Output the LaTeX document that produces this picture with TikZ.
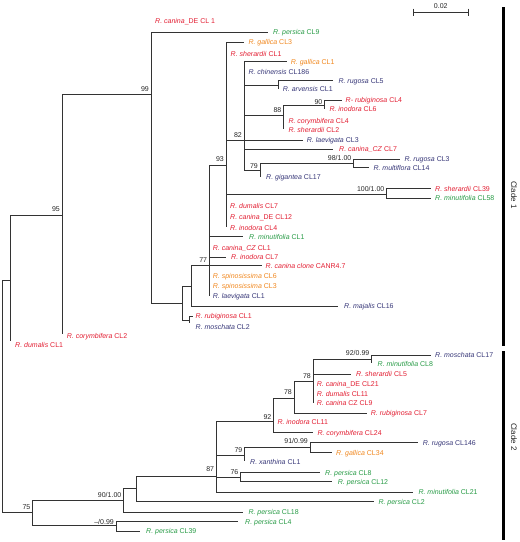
\documentclass[tikz,border=0pt]{standalone}
\usepackage{fontspec}
\setmainfont{Liberation Sans}
\definecolor{cred}{RGB}{226,30,50}
\definecolor{corg}{RGB}{240,135,30}
\definecolor{cgrn}{RGB}{40,155,70}
\definecolor{cblu}{RGB}{55,55,120}
\newcommand\spn[1]{\textit{#1}}
\newcommand\leaf[6]{\coordinate (t#1) at (#2,#3); \node[#4] (l#1) at (#5,#3) {#6};}
\newcommand\zlab[4]{\node[#3] (l#1) at (#2) {#4};}
\tikzset{
  br/.style={draw=black!80, line width=0.7pt},
  lbl/.style={anchor=west, inner sep=0pt, text height=5.1pt, text depth=0pt, font=\fontsize{7}{8}\selectfont},
  rd/.style={lbl,text=cred}, og/.style={lbl,text=corg},
  gn/.style={lbl,text=cgrn}, bl/.style={lbl,text=cblu},
  supv/.style={anchor=base east, inner sep=0pt, font=\fontsize{7}{8}\selectfont, text=black!85},
  cladebar/.style={draw=black, line width=3.5pt},
  cladetxt/.style={rotate=-90, inner sep=0pt, font=\fontsize{8}{9}\selectfont, text=black!85}
}
\begin{document}
\begin{tikzpicture}[x=1pt,y=-1pt]
\useasboundingbox (0,0) rectangle (520,542);
% internal nodes
\coordinate (root) at (2,396);
\coordinate (nA) at (10.7,280);
\coordinate (n95) at (62.3,215.7);
\coordinate (n99) at (151,94.3);
\coordinate (n182) at (182.7,303.3);
\coordinate (n189) at (189.3,320.7);
\coordinate (n191) at (191.7,286);
\coordinate (n77) at (209.3,265.7);
\coordinate (n93) at (226,165);
\coordinate (n82) at (244,140);
\coordinate (n278) at (278.3,85);
\coordinate (n88) at (283.3,115);
\coordinate (n90) at (324.3,105);
\coordinate (n79) at (260,170);
\coordinate (n98) at (353.3,163.3);
\coordinate (n100) at (386.7,194.3);
\coordinate (n75) at (32.3,512.7);
\coordinate (n90b) at (123.3,500.3);
\coordinate (nm99) at (116,525.7);
\coordinate (n136) at (136,488.3);
\coordinate (n87) at (216.3,476.7);
\coordinate (n92) at (273.3,421.7);
\coordinate (n78a) at (294,398.3);
\coordinate (n78b) at (313,381.5);
\coordinate (n92b) at (371.7,359.3);
\coordinate (n79b) at (244.3,455);
\coordinate (n91) at (310,447.7);
\coordinate (n76) at (240,477);

% leaves clade 1
\node[rd] (lcaDE1) at (155,21) {\spn{R. canina}\_DE CL 1};
\leaf{per9}{268}{32}{gn}{273}{\spn{R. persica} CL9}
\leaf{gal3}{244}{42.3}{og}{248.3}{\spn{R. gallica} CL3}
\zlab{sh1}{230.5,54}{rd}{\spn{R. sherardii} CL1}
\leaf{gal1}{287}{61.7}{og}{290.7}{\spn{R. gallica} CL1}
\zlab{chi}{248.3,72.3}{bl}{\spn{R. chinensis} CL186}
\leaf{rug5}{333.3}{80.5}{bl}{338.3}{\spn{R. rugosa} CL5}
\leaf{arv1}{278.3}{89}{bl}{282.7}{\spn{R. arvensis} CL1}
\leaf{rub4}{341.7}{100}{rd}{345.5}{\spn{R- rubiginosa} CL4}
\leaf{ino6}{324.3}{109}{rd}{329.3}{\spn{R. inodora} CL6}
\zlab{cor4}{288.3,121}{rd}{\spn{R. corymbifera} CL4}
\coordinate (tsh2) at (283.3,129);
\zlab{sh2}{288.3,130}{rd}{\spn{R. sherardii} CL2}
\leaf{lae3}{303.3}{140}{bl}{306.7}{\spn{R. laevigata} CL3}
\leaf{caCZ7}{333.3}{149}{rd}{339}{\spn{R. canina\_CZ} CL7}
\leaf{rug3}{400}{159}{bl}{404.3}{\spn{R. rugosa} CL3}
\leaf{mul14}{369.3}{167.7}{bl}{373.3}{\spn{R. multiflora} CL14}
\coordinate (tgig) at (260,177);
\zlab{gig}{266,176.7}{bl}{\spn{R. gigantea} CL17}
\leaf{sh39}{430.7}{188.7}{rd}{435}{\spn{R. sherardii} CL39}
\leaf{min58}{431}{198.3}{gn}{435}{\spn{R. minutifolia} CL58}
\zlab{dum7}{230,206}{rd}{\spn{R. dumalis} CL7}
\zlab{caDE12}{230,217}{rd}{\spn{R. canina}\_DE CL12}
\coordinate (tino4) at (226,226.7);
\zlab{ino4}{230,227.5}{rd}{\spn{R. inodora} CL4}
\leaf{min1}{242.7}{236.5}{gn}{249}{\spn{R. minutifolia} CL1}
\zlab{caCZ1}{212.7,248}{rd}{\spn{R. canina\_CZ} CL1}
\leaf{ino7}{226}{257.3}{rd}{231}{\spn{R. inodora} CL7}
\leaf{canr}{261.7}{265.7}{rd}{265.5}{\spn{R. canina clone} CANR4.7}
\zlab{spi6}{212.7,275.5}{og}{\spn{R. spinosissima} CL6}
\zlab{spi3}{212.7,286}{og}{\spn{R. spinosissima} CL3}
\coordinate (tlae1) at (209.3,295.7);
\zlab{lae1}{212.7,296}{bl}{\spn{R. laevigata} CL1}
\leaf{maj16}{338}{306}{bl}{344}{\spn{R. majalis} CL16}
\leaf{rub1}{192.5}{316.2}{rd}{195.5}{\spn{R. rubiginosa} CL1}
\coordinate (tmos2) at (189.3,322.5);
\zlab{mos2}{195.5,327.3}{bl}{\spn{R. moschata} CL2}
\coordinate (tcor2) at (62.3,334);
\zlab{cor2}{66.7,335.7}{rd}{\spn{R. corymbifera} CL2}
\coordinate (tdum1) at (10.7,341);
\zlab{dum1}{15,345}{rd}{\spn{R. dumalis} CL1}

% leaves clade 2
\leaf{mos17}{430.7}{355}{bl}{435}{\spn{R. moschata} CL17}
\coordinate (tmin8) at (371.7,363);
\zlab{min8}{377.5,363.7}{gn}{\spn{R. minutifolia} CL8}
\leaf{sh5}{351}{374.3}{rd}{356}{\spn{R. sherardii} CL5}
\zlab{caDE21}{316.7,384.3}{rd}{\spn{R. canina}\_DE CL21}
\zlab{dum11}{316.7,394.3}{rd}{\spn{R. dumalis} CL11}
\coordinate (tcaCZ9) at (313,403);
\zlab{caCZ9}{316.7,403.3}{rd}{\spn{R. canina} CZ CL9}
\leaf{rub7}{366.7}{413.3}{rd}{370.7}{\spn{R. rubiginosa} CL7}
\zlab{ino11}{277.3,422.3}{rd}{\spn{R. inodora} CL11}
\leaf{cor24}{313.3}{432.7}{rd}{317.3}{\spn{R. corymbifera} CL24}
\leaf{rug146}{418.3}{442.7}{bl}{422.7}{\spn{R. rugosa} CL146}
\leaf{gal34}{331.7}{452.7}{og}{336}{\spn{R. gallica} CL34}
\coordinate (txan1) at (244.3,460.5);
\zlab{xan1}{250,462.3}{bl}{\spn{R. xanthina} CL1}
\leaf{per8}{320}{472.7}{gn}{325}{\spn{R. persica} CL8}
\leaf{per12}{332.3}{481.7}{gn}{337.7}{\spn{R. persica} CL12}
\leaf{min21}{413.3}{492}{gn}{418.3}{\spn{R. minutifolia} CL21}
\leaf{per2}{374}{501.7}{gn}{378.3}{\spn{R. persica} CL2}
\leaf{per18}{242.7}{512}{gn}{248.3}{\spn{R. persica} CL18}
\leaf{per4}{238.3}{521.7}{gn}{245}{\spn{R. persica} CL4}
\leaf{per39}{140}{531}{gn}{146}{\spn{R. persica} CL39}

% branches
\draw[br] (root) |- (nA);
\draw[br] (root) |- (n75);
\draw[br] (nA) |- (n95);
\draw[br] (nA) |- (tdum1);
\draw[br] (n95) |- (n99);
\draw[br] (n95) |- (tcor2);
\draw[br] (n99) |- (tper9);
\draw[br] (n99) |- (n182);
\draw[br] (n182) |- (n191);
\draw[br] (n182) |- (n189);
\draw[br] (n189) |- (trub1);
\draw[br] (n189) |- (tmos2);
\draw[br] (n191) |- (n77);
\draw[br] (n191) |- (tmaj16);
\draw[br] (n77) |- (n93);
\draw[br] (n77) |- (tmin1);
\draw[br] (n77) |- (tino7);
\draw[br] (n77) |- (tcanr);
\draw[br] (n77) |- (tlae1);
\draw[br] (n93) |- (tgal3);
\draw[br] (n93) |- (n82);
\draw[br] (n93) |- (n100);
\draw[br] (n93) |- (tino4);
\draw[br] (n82) |- (tgal1);
\draw[br] (n82) |- (n278);
\draw[br] (n82) |- (n88);
\draw[br] (n82) |- (tlae3);
\draw[br] (n82) |- (tcaCZ7);
\draw[br] (n82) |- (n79);
\draw[br] (n278) |- (trug5);
\draw[br] (n278) |- (tarv1);
\draw[br] (n88) |- (n90);
\draw[br] (n88) |- (tsh2);
\draw[br] (n90) |- (trub4);
\draw[br] (n90) |- (tino6);
\draw[br] (n79) |- (n98);
\draw[br] (n79) |- (tgig);
\draw[br] (n98) |- (trug3);
\draw[br] (n98) |- (tmul14);
\draw[br] (n100) |- (tsh39);
\draw[br] (n100) |- (tmin58);
\draw[br] (n75) |- (n90b);
\draw[br] (n75) |- (nm99);
\draw[br] (nm99) |- (tper4);
\draw[br] (nm99) |- (tper39);
\draw[br] (n90b) |- (n136);
\draw[br] (n90b) |- (tper18);
\draw[br] (n136) |- (n87);
\draw[br] (n136) |- (tper2);
\draw[br] (n87) |- (n92);
\draw[br] (n87) |- (n79b);
\draw[br] (n87) |- (n76);
\draw[br] (n87) |- (tmin21);
\draw[br] (n76) |- (tper8);
\draw[br] (n76) |- (tper12);
\draw[br] (n79b) |- (n91);
\draw[br] (n79b) |- (txan1);
\draw[br] (n91) |- (trug146);
\draw[br] (n91) |- (tgal34);
\draw[br] (n92) |- (n78a);
\draw[br] (n92) |- (tcor24);
\draw[br] (n78a) |- (n78b);
\draw[br] (n78a) |- (trub7);
\draw[br] (n78b) |- (n92b);
\draw[br] (n78b) |- (tsh5);
\draw[br] (n78b) |- (tcaCZ9);
\draw[br] (n92b) |- (tmos17);
\draw[br] (n92b) |- (tmin8);

% support values
\node[supv] (s99) at (149,91) {99};
\node[supv] (s95) at (60,211.5) {95};
\node[supv] (s93) at (224,161) {93};
\node[supv] (s82) at (242,137) {82};
\node[supv] (s88) at (281.5,112.5) {88};
\node[supv] (s90) at (322.5,104.2) {90};
\node[supv] (s79) at (258,168.2) {79};
\node[supv] (s98) at (351.5,160.8) {98/1.00};
\node[supv] (s100) at (384.5,191) {100/1.00};
\node[supv] (s77) at (207.3,262) {77};
\node[supv] (s75) at (30.5,509.5) {75};
\node[supv] (s90b) at (121.5,497.5) {90/1.00};
\node[supv] (sm99) at (114,524.2) {--/0.99};
\node[supv] (s87) at (214.3,471.5) {87};
\node[supv] (s92) at (271.5,419.2) {92};
\node[supv] (s78a) at (292,394.8) {78};
\node[supv] (s78b) at (311,378.2) {78};
\node[supv] (s92b) at (369.5,355.2) {92/0.99};
\node[supv] (s79b) at (242.5,452.5) {79};
\node[supv] (s91) at (308,443.5) {91/0.99};
\node[supv] (s76) at (238.5,474.2) {76};

% scale bar
\coordinate (sb1) at (413.3,12);
\coordinate (sb2) at (468.3,12);
\draw[br] (sb1) -- (sb2);
\draw[br] ([yshift=3.5pt]sb1) -- ([yshift=-3.5pt]sb1);
\draw[br] ([yshift=3.5pt]sb2) -- ([yshift=-3.5pt]sb2);
\node[supv, anchor=base] (sbl) at (440.8,8.5) {0.02};

% clade bars
\coordinate (c1a) at (503.5,7);
\coordinate (c1b) at (503.5,346);
\coordinate (c2a) at (503.5,351);
\coordinate (c2b) at (503.5,540);
\draw[cladebar] (c1a) -- (c1b);
\draw[cladebar] (c2a) -- (c2b);
\node[cladetxt] (ct1) at (514,195) {Clade 1};
\node[cladetxt] (ct2) at (514,437) {Clade 2};
\end{tikzpicture}
\end{document}
